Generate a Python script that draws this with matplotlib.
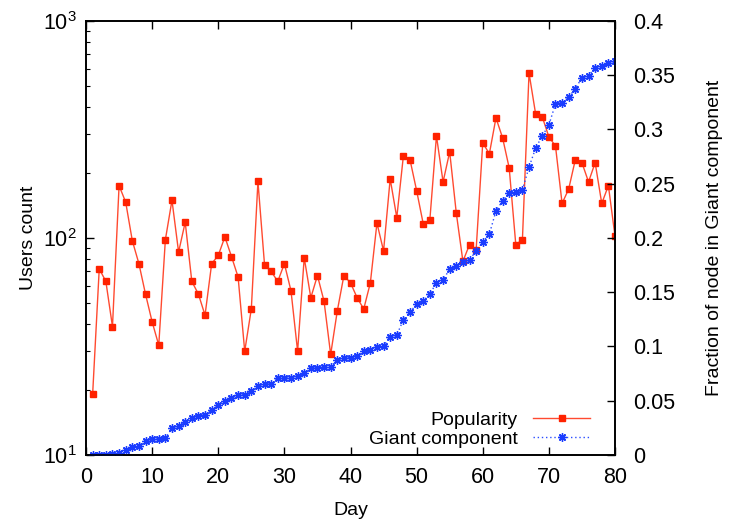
import matplotlib
matplotlib.use("Agg")
import matplotlib.pyplot as plt
import numpy as np
from matplotlib.ticker import LogLocator, MultipleLocator, NullFormatter

plt.rcParams["font.family"] = ["Liberation Sans", "DejaVu Sans"]
plt.rcParams["mathtext.fontset"] = "custom"
plt.rcParams["mathtext.rm"] = "Liberation Sans"

days = list(range(1, 81))

popularity = [
    19, 72, 63, 39, 174, 146, 97, 76, 55, 41,
    32, 98, 149, 86, 118, 63, 55, 44, 76, 83,
    101, 82, 66, 30, 47, 182, 75, 70, 63, 76,
    57, 30, 81, 53, 67, 51, 29, 46, 67, 62,
    53, 47, 62, 117, 87, 187, 124, 239, 229, 165,
    116, 121, 295, 181, 249, 130, 78, 93, 88, 274,
    244, 357, 289, 210, 93, 98, 575, 372, 361, 292,
    265, 144, 168, 229, 222, 181, 222, 144, 174, 102,
]

giant = [
    0.0, 0.0, 0.0, 0.0006, 0.002, 0.0046, 0.0071, 0.0086, 0.0129, 0.0145,
    0.0145, 0.0154, 0.0246, 0.0267, 0.0307, 0.0344, 0.0362, 0.0369, 0.0415, 0.0461,
    0.0498, 0.0522, 0.0553, 0.0553, 0.059, 0.063, 0.0652, 0.0652, 0.0707, 0.0707,
    0.0707, 0.0731, 0.0758, 0.0799, 0.0799, 0.0814, 0.0814, 0.0876, 0.0891, 0.0897,
    0.0915, 0.0959, 0.0968, 0.0998, 0.1004, 0.109, 0.1106, 0.1244, 0.1315, 0.1389,
    0.1419, 0.148, 0.1588, 0.1613, 0.1711, 0.1745, 0.1779, 0.1797, 0.188, 0.1963,
    0.2034, 0.2249, 0.2341, 0.2412, 0.2418, 0.2442, 0.2652, 0.2827, 0.294, 0.3039,
    0.3235, 0.3247, 0.3297, 0.3376, 0.3475, 0.3496, 0.3564, 0.3588, 0.361, 0.3629,
]

fig = plt.figure(figsize=(7.29, 5.21), dpi=100)
ax = fig.add_axes([0.118, 0.127, 0.7256, 0.833])
ax2 = ax.twinx()

# popularity on the log axis
ax.plot(days, popularity, color="#ff4a30", linewidth=1.0, marker="s",
        markersize=5, markerfacecolor="#ff2200", markeredgecolor="#ff2200",
        label="Popularity")
ax.set_yscale("log")
ax.set_ylim(10, 1000)
ax.set_xlim(0, 80)
ax.xaxis.set_major_locator(MultipleLocator(10))
ax.yaxis.set_major_locator(LogLocator(base=10, numticks=5))
ax.yaxis.set_minor_locator(LogLocator(base=10, subs=np.arange(2, 10), numticks=20))
ax.yaxis.set_minor_formatter(NullFormatter())
ax.set_xlabel("Day", fontsize=14, labelpad=10)
ax.set_ylabel("Users count", fontsize=14, labelpad=4)
ax.tick_params(axis="both", which="both", direction="in", labelsize=15.5,
               top=True, right=False)
ax.tick_params(axis="both", which="major", length=6, width=1)
ax.tick_params(axis="x", which="major", pad=9)
ax.tick_params(axis="y", which="major", pad=7)
ax.tick_params(axis="y", which="minor", length=3, width=0.8)

# giant component on the linear axis
ax2.plot(days, giant, color="#2a4dff", linewidth=1.0, linestyle=(0, (1, 2)),
         marker=(8, 2, 0), markersize=6, markeredgewidth=1.0,
         markeredgecolor="#1a3cff", label="Giant component")
ax2.set_ylim(0, 0.4)
ax2.yaxis.set_major_locator(MultipleLocator(0.05))
ax2.yaxis.set_major_formatter(lambda v, p: "0" if v == 0 else f"{v:g}")
ax2.set_ylabel("Fraction of node in Giant component", fontsize=14, labelpad=22)
ax2.tick_params(axis="y", which="major", direction="in", labelsize=15.5,
                length=6, width=1, pad=13)

for a in (ax, ax2):
    for s in a.spines.values():
        s.set_linewidth(1.2)

h1, l1 = ax.get_legend_handles_labels()
h2, l2 = ax2.get_legend_handles_labels()
leg = ax2.legend(h1 + h2, l1 + l2, loc="lower right", frameon=False,
                 markerfirst=False, fontsize=14, handlelength=2.9,
                 bbox_to_anchor=(0.978, -0.015), borderpad=0.2,
                 labelspacing=0.05, handletextpad=0.8)
for t in leg.get_texts():
    t.set_ha("right")

fig.savefig("out.png", dpi=100)
